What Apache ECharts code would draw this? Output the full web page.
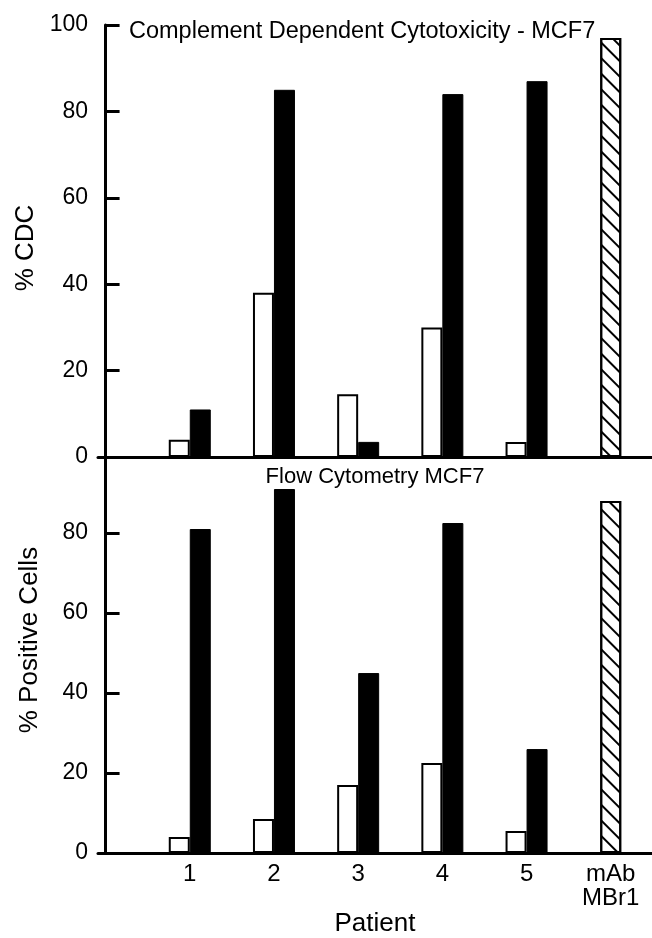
<!DOCTYPE html>
<html>
<head>
<meta charset="utf-8">
<script src="https://cdn.jsdelivr.net/npm/echarts@6/dist/echarts.min.js"></script>
<style>
  html, body { margin: 0; padding: 0; background: #fff; }
  #chart { width: 652px; height: 938px; }
</style>
</head>
<body>
<div id="chart"></div>
<script>
  // patients on the x axis, the mAb control sits in the 6th slot
  var patients = ['1', '2', '3', '4', '5'];
  var controlLabel = 'mAb\nMBr1';

  // top panel: % CDC
  var cdcOpen = [4, 38, 14.5, 30, 3.5];
  var cdcFilled = [11, 85, 3.5, 84, 87];
  var cdcControl = [97];

  // bottom panel: % positive cells
  var flowOpen = [4, 8.5, 17, 22.5, 5.5];
  var flowFilled = [81, 91, 45, 82.5, 26];
  var flowControl = [88];

  var yTicksTop = [0, 20, 40, 60, 80, 100];
  var yTicksBottom = [0, 20, 40, 60, 80];

  var font = "'Liberation Sans', Arial, Helvetica, sans-serif";
  var xMin = -0.09, xMax = 6.49;

  function pairs(arr) {
    return arr.map(function (v, i) { return [i + 1, v]; });
  }
  function controlPair(arr) {
    return [[patients.length + 1, arr[0]]];
  }

  var hatch = {
    symbol: 'rect',
    symbolSize: 1,
    dashArrayX: [1, 0],
    dashArrayY: [2, 9],
    rotation: Math.PI / 4,
    color: '#000'
  };

  function xAxisVisible(gridIndex, withLabels) {
    return {
      type: 'value',
      gridIndex: gridIndex,
      min: xMin,
      max: xMax,
      splitLine: { show: false },
      axisLine: { show: true, onZero: false, lineStyle: { color: '#000', width: 3 } },
      axisTick: { show: false },
      axisLabel: withLabels ? {
        show: true,
        customValues: [1, 2, 3, 4, 5, 6],
        color: '#000',
        fontFamily: font,
        fontSize: 24,
        lineHeight: 24,
        margin: 9,
        verticalAlign: 'top',
        formatter: function (v) {
          return v <= patients.length ? patients[v - 1] : controlLabel;
        }
      } : { show: false },
      name: withLabels ? 'Patient' : '',
      nameLocation: 'middle',
      nameGap: 34,
      nameTextStyle: { color: '#000', fontFamily: font, fontSize: 26, verticalAlign: 'top' }
    };
  }
  function xAxisHidden(gridIndex) {
    return { type: 'value', gridIndex: gridIndex, min: xMin, max: xMax, show: false };
  }
  function yAxis(gridIndex, max, ticks, name, namePad) {
    return {
      type: 'value',
      gridIndex: gridIndex,
      min: 0,
      max: max,
      splitLine: { show: false },
      axisLine: { show: true, lineStyle: { color: '#000', width: 3 } },
      axisTick: { show: true, inside: true, length: 14, lineStyle: { color: '#000', width: 3 }, customValues: ticks },
      axisLabel: { color: '#000', fontFamily: font, fontSize: 23, margin: 10, customValues: ticks },
      name: name,
      nameLocation: 'middle',
      nameGap: 55,
      nameTextStyle: { color: '#000', fontFamily: font, fontSize: 26, padding: namePad }
    };
  }

  function openBars(xi, yi, data) {
    return {
      type: 'bar', xAxisIndex: xi, yAxisIndex: yi, data: pairs(data),
      barWidth: 21, barGap: '0%',
      itemStyle: { color: '#fff', borderColor: '#000', borderWidth: 2 }
    };
  }
  function filledBars(xi, yi, data) {
    return {
      type: 'bar', xAxisIndex: xi, yAxisIndex: yi, data: pairs(data),
      barWidth: 21, barGap: '0%',
      itemStyle: { color: '#000', borderColor: '#000', borderWidth: 1 }
    };
  }
  function controlBar(xi, yi, data) {
    return {
      type: 'bar', xAxisIndex: xi, yAxisIndex: yi, data: controlPair(data),
      barWidth: 21,
      itemStyle: { color: '#fff', borderColor: '#000', borderWidth: 2, decal: hatch }
    };
  }

  var chart = echarts.init(document.getElementById('chart'), null, { renderer: 'canvas' });
  var option = {
    backgroundColor: '#fff',
    animation: false,
    title: [{
      text: 'Complement Dependent Cytotoxicity - MCF7',
      left: 124, top: 15,
      textStyle: { color: '#000', fontFamily: font, fontSize: 23.5, fontWeight: 'normal' }
    }, {
      text: 'Flow Cytometry MCF7',
      left: 370, top: 461, textAlign: 'center',
      textStyle: { color: '#000', fontFamily: font, fontSize: 22, fontWeight: 'normal' }
    }],
    grid: [
      { left: 98, right: 0, top: 25, height: 432 },
      { left: 98, right: 0, top: 457, height: 418 }
    ],
    xAxis: [
      xAxisVisible(0, false),
      xAxisHidden(0),
      xAxisVisible(1, true),
      xAxisHidden(1)
    ],
    yAxis: [
      yAxis(0, 100, yTicksTop, '% CDC', [0, 14, 0, 0]),
      yAxis(1, 99, yTicksBottom, '% Positive Cells', [0, 0, 0, 30])
    ],
    series: [
      openBars(0, 0, cdcOpen),
      filledBars(0, 0, cdcFilled),
      controlBar(1, 0, cdcControl),
      openBars(2, 1, flowOpen),
      filledBars(2, 1, flowFilled),
      controlBar(3, 1, flowControl)
    ]
  };
  chart.setOption(option);
</script>
</body>
</html>
